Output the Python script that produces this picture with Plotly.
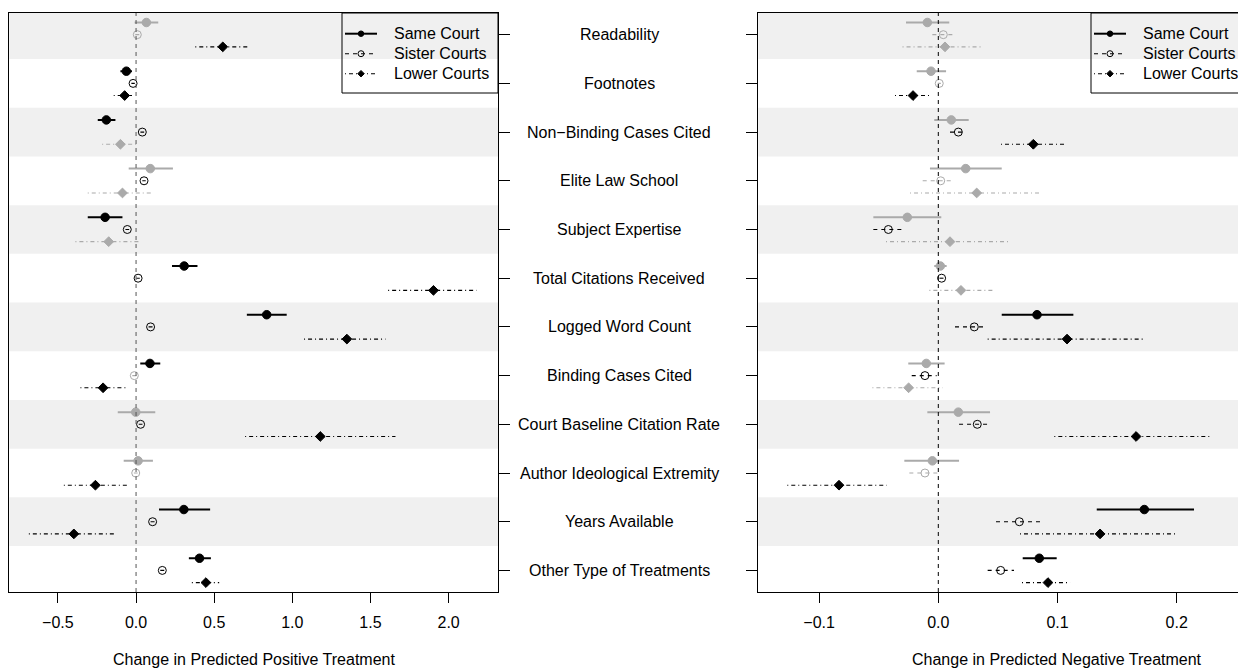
import plotly.graph_objects as go

# ---------------- data ----------------
categories = ["Readability", "Footnotes", "Non\u2212Binding Cases Cited", "Elite Law School",
              "Subject Expertise", "Total Citations Received", "Logged Word Count",
              "Binding Cases Cited", "Court Baseline Citation Rate",
              "Author Ideological Extremity", "Years Available", "Other Type of Treatments"]

series_names = ["Same Court", "Sister Courts", "Lower Courts"]

# Positive treatment (left panel)
pos_same = [0.066, -0.062, -0.190, 0.091, -0.198, 0.308, 0.836, 0.089, -0.002, 0.013, 0.306, 0.406]
pos_same_lo = [-0.009, -0.100, -0.245, -0.047, -0.309, 0.230, 0.709, 0.027, -0.117, -0.079, 0.147, 0.338]
pos_same_hi = [0.142, -0.026, -0.132, 0.236, -0.087, 0.393, 0.964, 0.155, 0.123, 0.108, 0.474, 0.479]
pos_same_sig = [0, 1, 1, 0, 1, 1, 1, 1, 0, 0, 1, 1]

pos_sister = [0.008, -0.019, 0.040, 0.051, -0.056, 0.013, 0.093, -0.011, 0.029, -0.002, 0.106, 0.168]
pos_sister_lo = [-0.005, -0.030, 0.028, 0.040, -0.068, 0.002, 0.080, -0.024, 0.017, -0.014, 0.093, 0.155]
pos_sister_hi = [0.021, -0.008, 0.052, 0.062, -0.044, 0.024, 0.106, 0.002, 0.041, 0.010, 0.119, 0.181]
pos_sister_sig = [0, 1, 1, 1, 1, 1, 1, 0, 1, 0, 1, 1]

pos_lower = [0.555, -0.073, -0.100, -0.087, -0.175, 1.903, 1.349, -0.211, 1.179, -0.260, -0.398, 0.447]
pos_lower_lo = [0.379, -0.143, -0.217, -0.309, -0.388, 1.613, 1.075, -0.356, 0.698, -0.462, -0.686, 0.357]
pos_lower_hi = [0.719, -0.026, 0.006, 0.104, 0.017, 2.178, 1.596, -0.062, 1.660, -0.058, -0.124, 0.532]
pos_lower_sig = [1, 1, 0, 0, 0, 1, 1, 1, 1, 1, 1, 1]

# Negative treatment (right panel)
neg_same = [-0.0092, -0.0061, 0.0109, 0.0230, -0.0260, 0.0017, 0.0828, -0.0101, 0.0168, -0.0050, 0.1728, 0.0847]
neg_same_lo = [-0.0271, -0.0181, -0.0034, -0.0070, -0.0545, -0.0034, 0.0532, -0.0252, -0.0092, -0.0285, 0.1329, 0.0708]
neg_same_hi = [0.0092, 0.0065, 0.0255, 0.0532, 0.0025, 0.0070, 0.1133, 0.0053, 0.0434, 0.0174, 0.2145, 0.0993]
neg_same_sig = [0, 0, 0, 0, 0, 0, 1, 0, 0, 0, 1, 1]

neg_sister = [0.0042, 0.0008, 0.0168, 0.0020, -0.0419, 0.0028, 0.0302, -0.0112, 0.0327, -0.0112, 0.0680, 0.0523]
neg_sister_lo = [-0.0050, -0.0005, 0.0098, -0.0131, -0.0545, 0.0010, 0.0140, -0.0223, 0.0174, -0.0243, 0.0484, 0.0414]
neg_sister_hi = [0.0132, 0.0021, 0.0232, 0.0121, -0.0288, 0.0046, 0.0392, -0.0014, 0.0434, 0.0006, 0.0853, 0.0635]
neg_sister_sig = [0, 0, 1, 0, 1, 1, 1, 1, 1, 0, 1, 1]

neg_lower = [0.0056, -0.0212, 0.0797, 0.0322, 0.0098, 0.0190, 0.1080, -0.0249, 0.1659, -0.0833, 0.1357, 0.0920]
neg_lower_lo = [-0.0300, -0.0363, 0.0526, -0.0237, -0.0439, -0.0075, 0.0414, -0.0553, 0.0973, -0.1267, 0.0685, 0.0702]
neg_lower_hi = [0.0378, -0.0070, 0.1063, 0.0867, 0.0590, 0.0456, 0.1728, 0.0037, 0.2294, -0.0433, 0.2000, 0.1105]
neg_lower_sig = [0, 1, 1, 0, 0, 0, 1, 0, 1, 1, 1, 1]

pos_tickvals = [-0.5, 0.0, 0.5, 1.0, 1.5, 2.0]
pos_ticktext = ["\u22120.5", "0.0", "0.5", "1.0", "1.5", "2.0"]
neg_tickvals = [-0.1, 0.0, 0.1, 0.2]
neg_ticktext = ["\u22120.1", "0.0", "0.1", "0.2"]

pos_title = "Change in Predicted Positive Treatment"
neg_title = "Change in Predicted Negative Treatment"

# ---------------- layout constants ----------------
W, H = 1238, 669
FONT = "Liberation Sans, Arial, Helvetica, sans-serif"
BLACK = "#000000"
GREY = "#aaaaaa"
BAND = "#f0f0f0"

L_X0, L_X1 = 9.3, 498.0
R_X0, R_X1 = 758.3, 1238.0
P_TOP, P_BOT = 13.0, 592.0
Y_RANGE = [11.443, -0.445]
POS_RANGE = [-0.811, 2.316]
NEG_RANGE = [-0.151, 0.2514]


def px(x):
    return x / W


def py(y):
    return 1 - y / H


styles = [
    dict(off=-0.25, dash="solid", width=2, symbol="circle", size=8.5),
    dict(off=0.0, dash="4px,4px", width=1.1, symbol="circle-open", size=8),
    dict(off=0.25, dash="1px,3px,4px,3px", width=1.1, symbol="diamond", size=7.5),
]

fig = go.Figure()


def add_series(xa, ya, vals, lo, hi, sig, st):
    for flag in (0, 1):
        col = BLACK if flag else GREY
        xs, ys = [], []
        mx, my = [], []
        for i in range(len(vals)):
            if sig[i] != flag:
                continue
            yy = i + st["off"]
            xs += [lo[i], hi[i], None]
            ys += [yy, yy, None]
            mx.append(vals[i])
            my.append(yy)
        if not mx:
            continue
        fig.add_trace(go.Scatter(x=xs, y=ys, xaxis=xa, yaxis=ya, mode="lines",
                                 line=dict(color=col, width=st["width"], dash=st["dash"]),
                                 hoverinfo="skip", showlegend=False))
        fig.add_trace(go.Scatter(x=mx, y=my, xaxis=xa, yaxis=ya, mode="markers",
                                 marker=dict(symbol=st["symbol"], size=st["size"], color=col,
                                             line=dict(width=1, color=col)),
                                 showlegend=False))


left_sets = [(pos_same, pos_same_lo, pos_same_hi, pos_same_sig),
             (pos_sister, pos_sister_lo, pos_sister_hi, pos_sister_sig),
             (pos_lower, pos_lower_lo, pos_lower_hi, pos_lower_sig)]
right_sets = [(neg_same, neg_same_lo, neg_same_hi, neg_same_sig),
              (neg_sister, neg_sister_lo, neg_sister_hi, neg_sister_sig),
              (neg_lower, neg_lower_lo, neg_lower_hi, neg_lower_sig)]

for (v, lo, hi, sg), st in zip(left_sets, styles):
    add_series("x", "y", v, lo, hi, sg, st)
for (v, lo, hi, sg), st in zip(right_sets, styles):
    add_series("x2", "y2", v, lo, hi, sg, st)

shapes = []
annotations = []

# alternating bands
n = len(categories)
for xr in ("x", "x2"):
    yr = "y" if xr == "x" else "y2"
    for i in range(0, n, 2):
        y0 = max(i - 0.5, min(Y_RANGE))
        y1 = min(i + 0.5, max(Y_RANGE))
        shapes.append(dict(type="rect", xref=xr + " domain", yref=yr, x0=0, x1=1, y0=y0, y1=y1,
                           fillcolor=BAND, line=dict(width=0), layer="below"))

# zero reference lines
shapes.append(dict(type="line", xref="x", yref="y domain", x0=0, x1=0, y0=0, y1=1,
                   line=dict(color="#555555", width=1, dash="4px,4px")))
shapes.append(dict(type="line", xref="x2", yref="y2 domain", x0=0, x1=0, y0=0, y1=1,
                   line=dict(color=BLACK, width=1, dash="4px,4px")))

# legends (manual)
leg_rows = [33.7, 53.7, 73.7]
leg_mark_sizes = [5.5, 6, 5]
for bx0, bx1 in ((342.0, 498.0), (1091.0, 1300.0)):
    shapes.append(dict(type="rect", xref="paper", yref="paper", x0=px(bx0), x1=px(bx1),
                       y0=py(93.0), y1=py(P_TOP), line=dict(color=BLACK, width=1),
                       fillcolor="rgba(0,0,0,0)"))
    lx0 = bx0 + 3
    lx1 = bx0 + 35
    mxc = bx0 + 19
    tx = bx0 + 50
    for k, (name, st) in enumerate(zip(series_names, styles)):
        shapes.append(dict(type="line", xref="paper", yref="paper", x0=px(lx0), x1=px(lx1),
                           y0=py(leg_rows[k]), y1=py(leg_rows[k]),
                           line=dict(color=BLACK, width=st["width"], dash=st["dash"])))
        annotations.append(dict(xref="paper", yref="paper", x=px(tx), y=py(leg_rows[k]),
                                text=name, showarrow=False, xanchor="left", yanchor="middle",
                                font=dict(family=FONT, size=16, color=BLACK)))
        fig.add_trace(go.Scatter(x=[mxc], y=[leg_rows[k]], xaxis="x3", yaxis="y3", mode="markers",
                                 marker=dict(symbol=st["symbol"], size=leg_mark_sizes[k], color=BLACK,
                                             line=dict(width=1, color=BLACK)),
                                 hoverinfo="skip", showlegend=False))

# category labels in the middle
for i, c in enumerate(categories):
    annotations.append(dict(xref="paper", yref="y", x=px(619), y=i, text=c, showarrow=False,
                            xanchor="center", yanchor="middle",
                            font=dict(family=FONT, size=16, color=BLACK)))

# axis titles
annotations.append(dict(xref="paper", yref="paper", x=px((L_X0 + L_X1) / 2), y=py(668.5),
                        text=pos_title, showarrow=False, xanchor="center", yanchor="bottom",
                        borderpad=0, font=dict(family=FONT, size=16, color=BLACK)))
annotations.append(dict(xref="paper", yref="paper", x=px(1057), y=py(668.5),
                        text=neg_title, showarrow=False, xanchor="center", yanchor="bottom",
                        borderpad=0, font=dict(family=FONT, size=16, color=BLACK)))

axis_common = dict(showgrid=False, zeroline=False, showline=True, linecolor=BLACK, linewidth=1,
                   ticks="outside", tickcolor=BLACK, tickwidth=1,
                   tickfont=dict(family=FONT, size=16, color=BLACK))

fig.update_layout(
    width=W, height=H, margin=dict(l=0, r=0, t=0, b=0),
    paper_bgcolor="white", plot_bgcolor="rgba(0,0,0,0)",
    showlegend=False,
    xaxis=dict(domain=[px(L_X0), px(L_X1)], range=POS_RANGE, anchor="y",
               tickvals=pos_tickvals, ticktext=pos_ticktext, ticklen=10, mirror=True,
               ticklabelstandoff=6, **axis_common),
    yaxis=dict(domain=[py(P_BOT), py(P_TOP)], range=Y_RANGE, anchor="x", side="right",
               tickvals=list(range(n)), showticklabels=False, ticklen=11, mirror=True,
               **axis_common),
    xaxis2=dict(domain=[px(R_X0), 1.0], range=NEG_RANGE, anchor="y2",
                tickvals=neg_tickvals, ticktext=neg_ticktext, ticklen=10, mirror=True,
                ticklabelstandoff=6, **axis_common),
    yaxis2=dict(domain=[py(P_BOT), py(P_TOP)], range=Y_RANGE, anchor="x2", side="left",
                tickvals=list(range(n)), showticklabels=False, ticklen=11, mirror=False,
                **axis_common),
    xaxis3=dict(domain=[0, 1], range=[0, W], visible=False, anchor="y3", fixedrange=True),
    yaxis3=dict(domain=[0, 1], range=[H, 0], visible=False, anchor="x3", fixedrange=True),
    shapes=shapes,
    annotations=annotations,
    font=dict(family=FONT, size=16, color=BLACK),
)

fig.write_html("out.html")
